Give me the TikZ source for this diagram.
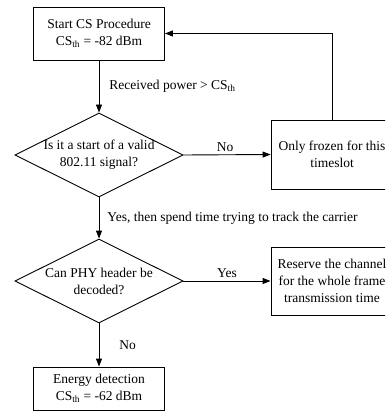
\documentclass[tikz,border=0pt]{standalone}
\usepackage{fontspec}
\setmainfont{Liberation Serif}
\usetikzlibrary{shapes.geometric,arrows.meta}
\begin{document}
\begin{tikzpicture}[x=1pt,y=-1pt,
  font=\fontsize{13.5}{17}\selectfont,
  line width=0.9pt,
  box/.style={draw, rectangle, inner sep=0pt, align=center},
  diam/.style={draw, diamond, inner sep=0pt, minimum width=168pt, minimum height=84pt},
  txt/.style={align=center, inner sep=0pt},
  lbl/.style={inner sep=0pt},
  arr/.style={-{Triangle[length=8pt,width=6pt]}}]
\clip (0,0) rectangle (385,414);
\useasboundingbox (0,0) rectangle (385,414);
\node[box, minimum width=131pt, minimum height=53pt] (top) at (99,33.5) {Start CS Procedure\\CS\textsubscript{th} = -82 dBm};
\node[diam] (d1) at (99,155) {};
\node[txt] (d1t) at (99,155) {Is it a start of a valid\\802.11 signal?};
\node[box, minimum width=122pt, minimum height=69pt] (r1) at (332,154.5) {Only frozen for this\\timeslot};
\node[diam] (d2) at (99,281) {};
\node[txt] (d2t) at (99,281) {Can PHY header be\\decoded?};
\node[box, minimum width=122pt, minimum height=68pt] (r2) at (332,281) {Reserve the channel\\for the whole frame\\transmission time};
\node[box, minimum width=131pt, minimum height=43pt] (bot) at (99,388.5) {Energy detection\\CS\textsubscript{th} = -62 dBm};
\draw[arr] (top.south) -- node[lbl, anchor=west, xshift=10pt] (l1) {Received power > CS\textsubscript{th}} (d1.north);
\draw[arr] (d1.east) -- node[lbl, anchor=south, yshift=3pt, xshift=-2pt] (l2) {No} (r1.west);
\draw[arr] (r1.north) |- (top.east);
\draw[arr] (d1.south) -- node[lbl, anchor=west, xshift=8pt] (l3) {Yes, then spend time trying to track the carrier} (d2.north);
\draw[arr] (d2.east) -- node[lbl, anchor=south, yshift=3pt] (l4) {Yes} (r2.west);
\draw[arr] (d2.south) -- node[lbl, anchor=west, xshift=20pt] (l5) {No} (bot.north);
\end{tikzpicture}
\end{document}
